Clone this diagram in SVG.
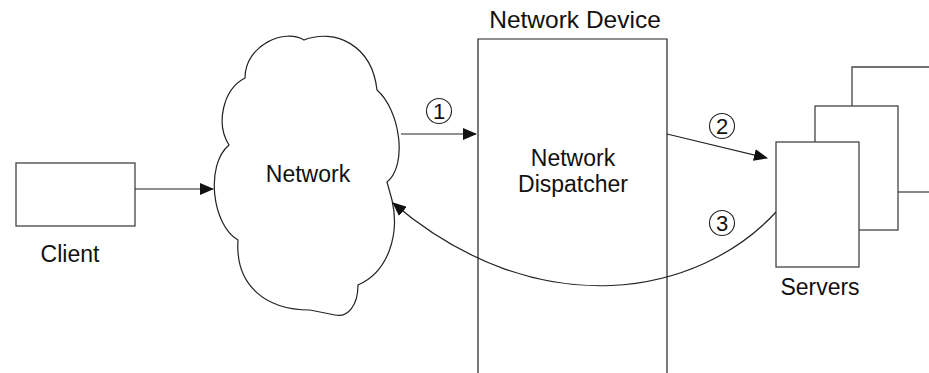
<svg xmlns="http://www.w3.org/2000/svg" width="929" height="373" viewBox="0 0 929 373">
<defs>
<marker id="arr" markerUnits="userSpaceOnUse" markerWidth="14" markerHeight="12" refX="13" refY="6" orient="auto">
<path d="M0,0 L14,6 L0,12 Z" fill="#111"/>
</marker>
<style>
.ln{fill:none;stroke:#222;stroke-width:1.2}
.box{fill:#fff;stroke:#444;stroke-width:1.3}
.t{font-family:"Liberation Sans",Arial,sans-serif;font-size:23px;fill:#111;text-anchor:middle}
.n{font-family:"Liberation Sans",Arial,sans-serif;font-size:22px;fill:#111;text-anchor:middle}
.c{fill:none;stroke:#222;stroke-width:1.1}
</style>
</defs>
<rect width="929" height="373" fill="#fff"/>
<g id="client">
<rect class="box" x="16" y="163" width="119" height="63"/>
<text class="t" x="70" y="262">Client</text>
</g>
<g id="network">
<path class="ln" d="M245,78 C245,45 285,28 304,40 C335,28 372,45 377,90 C400,110 408,165 387,182 L392,200 C400,235 388,272 358,285 C358,305 348,318 335,315 L310,310 C265,310 235,285 238,240 C212,225 205,165 229,145 C216,125 222,90 245,78 Z" fill="#fff"/>
<text class="t" x="308" y="182">Network</text>
</g>
<g id="device">
<path class="ln" d="M478,373 L478,39 L667,39 L667,373"/>
<text class="t" x="575" y="28" style="font-size:24.5px">Network Device</text>
<text class="t" x="573" y="166">Network</text>
<text class="t" x="573" y="192">Dispatcher</text>
</g>
<g id="servers">
<path class="box" d="M852,192 L852,67 L929,67"/>
<path class="box" d="M929,192 L898,192"/>
<rect class="box" x="815" y="106" width="83" height="124"/>
<rect class="box" x="776" y="142" width="83" height="125"/>
<text class="t" x="820" y="295">Servers</text>
</g>
<g id="connectors">
<path class="ln" d="M135,189 L213,189" marker-end="url(#arr)"/>
<path class="ln" d="M401,134 L476,134" marker-end="url(#arr)"/>
<path class="ln" d="M667,134 L767,158" marker-end="url(#arr)"/>
<path class="ln" d="M776,212 C700,295 540,328 393,203" marker-end="url(#arr)"/>
</g>
<g id="labels">
<circle class="c" cx="439" cy="111" r="12.5"/>
<text class="n" x="439" y="119">1</text>
<circle class="c" cx="722" cy="126" r="12.5"/>
<text class="n" x="722" y="134">2</text>
<circle class="c" cx="722" cy="223" r="12.5"/>
<text class="n" x="722" y="231">3</text>
</g>
</svg>
